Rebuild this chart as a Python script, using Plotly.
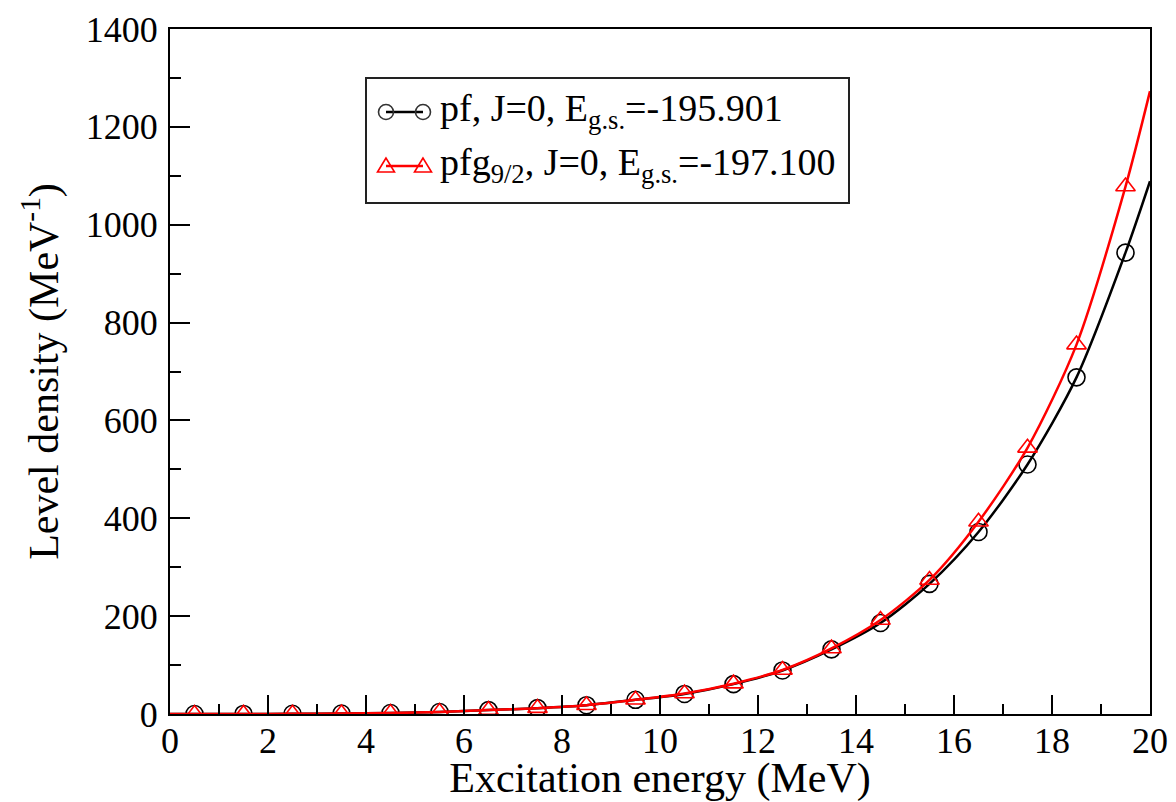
import plotly.graph_objects as go

# Level density vs excitation energy, J=0, for two model spaces
energy = [0.5, 1.5, 2.5, 3.5, 4.5, 5.5, 6.5, 7.5, 8.5, 9.5,
          10.5, 11.5, 12.5, 13.5, 14.5, 15.5, 16.5, 17.5, 18.5, 19.5]
rho_pf = [0.05, 0.15, 0.4, 0.9, 2, 4, 8, 12, 18, 29,
          41, 61, 89, 132, 186, 266, 372, 510, 688, 943]
rho_pfg = [0.05, 0.15, 0.4, 0.9, 2, 4, 8, 12, 18, 29,
           42, 62, 90, 134, 192, 274, 393, 544, 755, 1078]

# curve end points on the energy window edges
edge_energy = [0.0, 20.0]
edge_pf = [0.0, 1089]
edge_pfg = [0.0, 1273]

curve_energy = [edge_energy[0]] + energy + [edge_energy[1]]
curve_pf = [edge_pf[0]] + rho_pf + [edge_pf[1]]
curve_pfg = [edge_pfg[0]] + rho_pfg + [edge_pfg[1]]

FONT = "Liberation Serif, Times New Roman, serif"
BLACK = "#000000"
RED = "#ff0000"

fig = go.Figure()

fig.add_trace(go.Scatter(x=curve_energy, y=curve_pf, mode="lines",
                         line=dict(color=BLACK, width=2.5, shape="spline", smoothing=0.8),
                         showlegend=False, hoverinfo="skip"))
fig.add_trace(go.Scatter(x=energy, y=rho_pf, mode="markers",
                         marker=dict(symbol="circle-open", size=17, color=BLACK,
                                     line=dict(width=1.6, color="#333333")),
                         showlegend=False))
fig.add_trace(go.Scatter(x=curve_energy, y=curve_pfg, mode="lines",
                         line=dict(color=RED, width=2.5, shape="spline", smoothing=0.8),
                         showlegend=False, hoverinfo="skip"))
fig.add_trace(go.Scatter(x=energy, y=rho_pfg, mode="markers",
                         marker=dict(symbol="triangle-up-open", size=17, color=RED,
                                     line=dict(width=1.6, color=RED)),
                         showlegend=False))

# ---- hand-built legend box (line sample with a symbol at each end) ----
L, R, T, B = 170, 1150, 29, 714
W, H = R - L, B - T


def px(x):
    return (x - L) / W


def py(y):
    return (B - y) / H


shapes = [dict(type="rect", xref="paper", yref="paper",
               x0=px(366), x1=px(849), y0=py(203), y1=py(78),
               line=dict(color="#222222", width=2), fillcolor="white", layer="above")]

rows = [
    dict(y=112, color=BLACK, sym="circle",
         text="pf, J=0, E<sub>g.s.</sub>=-195.901"),
    dict(y=166, color=RED, sym="triangle",
         text="pfg<sub>9/2</sub>, J=0, E<sub>g.s.</sub>=-197.100"),
]
sx0, sx1 = 386, 423
r = 7.5
for row in rows:
    yy = row["y"]
    shapes.append(dict(type="line", xref="paper", yref="paper",
                       x0=px(sx0), x1=px(sx1), y0=py(yy), y1=py(yy),
                       line=dict(color=row["color"], width=2.5), layer="above"))
    for cx in (sx0, sx1):
        if row["sym"] == "circle":
            shapes.append(dict(type="circle", xref="paper", yref="paper",
                               x0=px(cx - r), x1=px(cx + r), y0=py(yy + r), y1=py(yy - r),
                               line=dict(color="#333333", width=1.6), layer="above"))
        else:
            path = "M {:.5f},{:.5f} L {:.5f},{:.5f} L {:.5f},{:.5f} Z".format(
                px(cx), py(yy - 8), px(cx - 8.5), py(yy + 6), px(cx + 8.5), py(yy + 6))
            shapes.append(dict(type="path", xref="paper", yref="paper", path=path,
                               line=dict(color=RED, width=1.6), layer="above"))

annotations = []
for row in rows:
    annotations.append(dict(xref="paper", yref="paper", x=px(438), y=py(row["y"] - 1),
                            xanchor="left", yanchor="middle", showarrow=False,
                            text=row["text"], font=dict(family=FONT, size=38, color=BLACK)))

axis_common = dict(showline=True, linecolor=BLACK, linewidth=2, mirror=True,
                   showgrid=False, zeroline=False, ticks="inside", tickwidth=2,
                   automargin=False,
                   tickcolor=BLACK, tickfont=dict(family=FONT, size=36, color=BLACK))

fig.update_layout(
    width=1176, height=802,
    margin=dict(l=L, r=1176 - R, t=T, b=802 - B),
    paper_bgcolor="white", plot_bgcolor="white",
    shapes=shapes, annotations=annotations,
    xaxis=dict(range=[0, 20], tick0=0, dtick=2, ticklen=19, ticklabelstandoff=-6,
               minor=dict(dtick=1, ticks="inside", ticklen=10, tickwidth=2, tickcolor=BLACK),
               title=dict(text="Excitation energy (MeV)", standoff=0,
                          font=dict(family=FONT, size=42, color=BLACK)),
               **axis_common),
    yaxis=dict(range=[0, 1400], tick0=0, dtick=200, ticklen=20, ticklabelstandoff=3,
               minor=dict(dtick=100, ticks="inside", ticklen=11, tickwidth=2, tickcolor=BLACK),
               title=dict(text="Level density (MeV<sup>-1</sup>)", standoff=14,
                          font=dict(family=FONT, size=42, color=BLACK)),
               **axis_common),
)

fig.write_html("out.html")
